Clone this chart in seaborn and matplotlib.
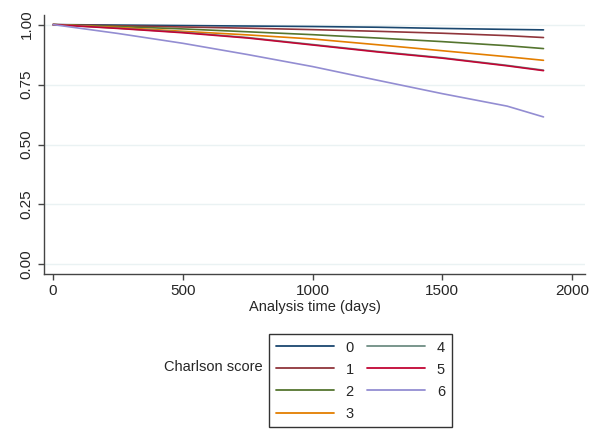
import numpy as np
import pandas as pd
import seaborn as sns
import matplotlib.pyplot as plt
from matplotlib.ticker import FormatStrFormatter

# survival estimates
days = [0, 250, 500, 750, 1000, 1250, 1500, 1750, 1890]
surv_0 = [1.0, 0.998, 0.996, 0.994, 0.992, 0.989, 0.984, 0.980, 0.978]
surv_1 = [1.0, 0.995, 0.990, 0.985, 0.979, 0.972, 0.964, 0.954, 0.946]
surv_2 = [1.0, 0.992, 0.982, 0.970, 0.958, 0.944, 0.929, 0.912, 0.900]
surv_3 = [1.0, 0.988, 0.972, 0.957, 0.940, 0.916, 0.891, 0.866, 0.851]
surv_4 = [1.0, 0.985, 0.968, 0.946, 0.917, 0.888, 0.862, 0.830, 0.810]
surv_5 = [1.0, 0.984, 0.966, 0.944, 0.915, 0.886, 0.860, 0.828, 0.808]
surv_6 = [1.0, 0.963, 0.922, 0.875, 0.825, 0.768, 0.712, 0.660, 0.615]

scores = ['0', '1', '2', '3', '4', '5', '6']
colors = ['#1a476f', '#90353b', '#55752f', '#e37e00', '#6e8e84', '#c10534', '#938dd2']
x_ticks = [0, 500, 1000, 1500, 2000]
y_ticks = [0.0, 0.25, 0.5, 0.75, 1.0]

all_surv = [surv_0, surv_1, surv_2, surv_3, surv_4, surv_5, surv_6]
rows = []
for s, vals in zip(scores, all_surv):
    for d, v in zip(days, vals):
        rows.append({'days': d, 'surv': v, 'score': s})
df = pd.DataFrame(rows)

sns.set_style('white')
plt.rcParams['font.family'] = ['Liberation Sans', 'DejaVu Sans']

fig = plt.figure(figsize=(6, 4.36), dpi=100)
ax = fig.add_axes([44 / 600, 1 - 274 / 436, 541 / 600, 259 / 436])

for yt in y_ticks:
    ax.axhline(yt, color='#eaf2f3', lw=1.0, zorder=0)

sns.lineplot(data=df, x='days', y='surv', hue='score', hue_order=scores,
             palette=dict(zip(scores, colors)), linewidth=1.2, ax=ax, legend=False)

ax.set_xlim(-35, 2050)
ax.set_ylim(-0.04, 1.04)
ax.set_xticks(x_ticks)
ax.set_yticks(y_ticks)
ax.yaxis.set_major_formatter(FormatStrFormatter('%.2f'))
ax.tick_params(axis='both', direction='out', length=4, width=1, color='#444444',
               labelsize=11, bottom=True, left=True)
for lab in ax.get_yticklabels():
    lab.set_rotation(90)
    lab.set_va('center')
for side in ['top', 'right']:
    ax.spines[side].set_visible(False)
for side in ['left', 'bottom']:
    ax.spines[side].set_color('#444444')
    ax.spines[side].set_linewidth(1)
ax.set_xlabel('Analysis time (days)', fontsize=10.5, labelpad=1)
ax.set_ylabel('')

handles = [plt.Line2D([], [], color=c, lw=1.3) for c in colors]
leg = fig.legend(handles, scores, ncol=2, loc='upper left',
                 bbox_to_anchor=(269 / 600, 1 - 334 / 436), borderaxespad=0,
                 fontsize=10.5, frameon=True, fancybox=False, edgecolor='black',
                 handlelength=4.0, handletextpad=0.8, columnspacing=0.9,
                 labelspacing=0.55, borderpad=0.45)
leg.get_frame().set_linewidth(1)
fig.text(263 / 600, 1 - 367 / 436, 'Charlson score', ha='right', va='center', fontsize=10.5)

fig.savefig('out.png', dpi=100)
